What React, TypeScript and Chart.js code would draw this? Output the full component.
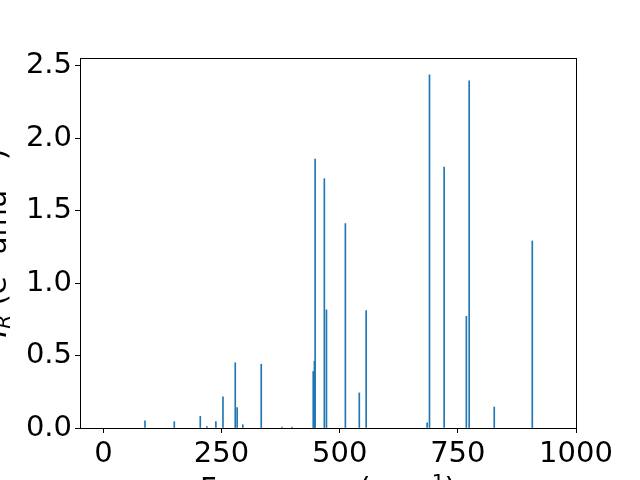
import React, { useEffect, useRef } from "react";
import { Chart, registerables } from "chart.js";

Chart.register(...registerables);

const frequencies = [88, 150, 205, 219, 238, 253, 279, 283, 295, 334, 378, 399, 444, 446.5, 448, 467.5, 472, 512, 541.5, 556, 685, 690, 721, 768, 774, 827, 907.5];
const intensities = [0.05, 0.044, 0.08, 0.01, 0.044, 0.215, 0.45, 0.14, 0.023, 0.44, 0.007, 0.007, 0.39, 0.46, 1.855, 1.72, 0.815, 1.41, 0.242, 0.81, 0.035, 2.436, 1.80, 0.77, 2.395, 0.145, 1.29];
const xTicks = [0, 250, 500, 750, 1000];
const yTicks = [0, 0.5, 1.0, 1.5, 2.0, 2.5];

const FONT = "DejaVu Sans";
const FS = 29;

type Seg = { text: string; size: number; dy: number; italic?: boolean };

function drawRich(ctx: CanvasRenderingContext2D, segs: Seg[], cx: number, baseY: number) {
  let total = 0;
  const widths = segs.map((s) => {
    ctx.font = `${s.italic ? "italic " : ""}${s.size}px "${FONT}"`;
    const w = ctx.measureText(s.text).width;
    total += w;
    return w;
  });
  let x = cx - total / 2;
  ctx.textAlign = "left";
  ctx.textBaseline = "alphabetic";
  segs.forEach((s, i) => {
    ctx.font = `${s.italic ? "italic " : ""}${s.size}px "${FONT}"`;
    ctx.fillText(s.text, x, baseY + s.dy);
    x += widths[i];
  });
}

const framePlugin = {
  id: "frameAndLabels",
  afterDraw(chart: any) {
    const { ctx, chartArea } = chart;
    ctx.save();
    ctx.strokeStyle = "#000";
    ctx.lineWidth = 1;
    ctx.strokeRect(Math.round(chartArea.left) + 0.5, Math.round(chartArea.top) + 0.5, Math.round(chartArea.right - chartArea.left), Math.round(chartArea.bottom - chartArea.top));
    ctx.fillStyle = "#000";
    const sub = FS * 0.7;
    // x label
    drawRich(
      ctx,
      [
        { text: "Frequency (cm", size: FS, dy: 0 },
        { text: "\u22121", size: sub, dy: -FS * 0.36 },
        { text: ")", size: FS, dy: 0 },
      ],
      (chartArea.left + chartArea.right) / 2,
      498
    );
    // y label
    ctx.translate(6, (chartArea.top + chartArea.bottom) / 2);
    ctx.rotate(-Math.PI / 2);
    drawRich(
      ctx,
      [
        { text: "I", size: FS, dy: 0, italic: true },
        { text: "R", size: sub, dy: FS * 0.15, italic: true },
        { text: " (e", size: FS, dy: 0 },
        { text: "2", size: sub, dy: -FS * 0.36 },
        { text: " amu", size: FS, dy: 0 },
        { text: "\u22121", size: sub, dy: -FS * 0.36 },
        { text: ")", size: FS, dy: 0 },
      ],
      0,
      0
    );
    ctx.restore();
  },
};

export default function App() {
  const ref = useRef<HTMLCanvasElement | null>(null);
  useEffect(() => {
    document.body.style.margin = "0";
    const canvas = ref.current!;
    const chart = new Chart(canvas, {
      type: "bar",
      data: {
        datasets: [
          {
            data: frequencies.map((f, i) => ({ x: f, y: intensities[i] })) as any,
            backgroundColor: "#1f77b4",
            borderWidth: 0,
            barThickness: 1,
          },
        ],
      },
      options: {
        animation: false,
        responsive: true,
        maintainAspectRatio: false,
        devicePixelRatio: 1,
        layout: { padding: { top: 58, right: 64, left: 0, bottom: 0 } },
        plugins: { legend: { display: false }, tooltip: { enabled: false } },
        scales: {
          x: {
            type: "linear",
            min: -49.5,
            max: 1000,
            offset: false,
            grid: { offset: false, drawOnChartArea: false, drawTicks: true, tickLength: 5, color: "#000", tickWidth: 1 },
            border: { display: true, color: "#000", width: 1 },
            ticks: {
              color: "#000",
              font: { family: FONT, size: FS },
              padding: 4,
              maxRotation: 0,
              autoSkip: false,
              callback: (v: any) => String(v),
            },
            afterBuildTicks: (scale: any) => {
              scale.ticks = xTicks.map((v) => ({ value: v }));
            },
            afterFit: (scale: any) => {
              scale.height = 52;
            },
          },
          y: {
            type: "linear",
            min: 0,
            max: 2.552,
            grid: { offset: false, drawOnChartArea: false, drawTicks: true, tickLength: 5, color: "#000", tickWidth: 1 },
            border: { display: true, color: "#000", width: 1 },
            ticks: {
              color: "#000",
              font: { family: FONT, size: FS },
              padding: 3,
              autoSkip: false,
              callback: (v: any) => Number(v).toFixed(1),
            },
            afterBuildTicks: (scale: any) => {
              scale.ticks = yTicks.map((v) => ({ value: v }));
            },
            afterFit: (scale: any) => {
              scale.width = 80;
            },
          },
        },
      },
      plugins: [framePlugin],
    });
    return () => chart.destroy();
  }, []);
  return (
    <div style={{ position: "absolute", left: 0, top: 0, width: 640, height: 480 }}>
      <canvas ref={ref} width={640} height={480} />
    </div>
  );
}
